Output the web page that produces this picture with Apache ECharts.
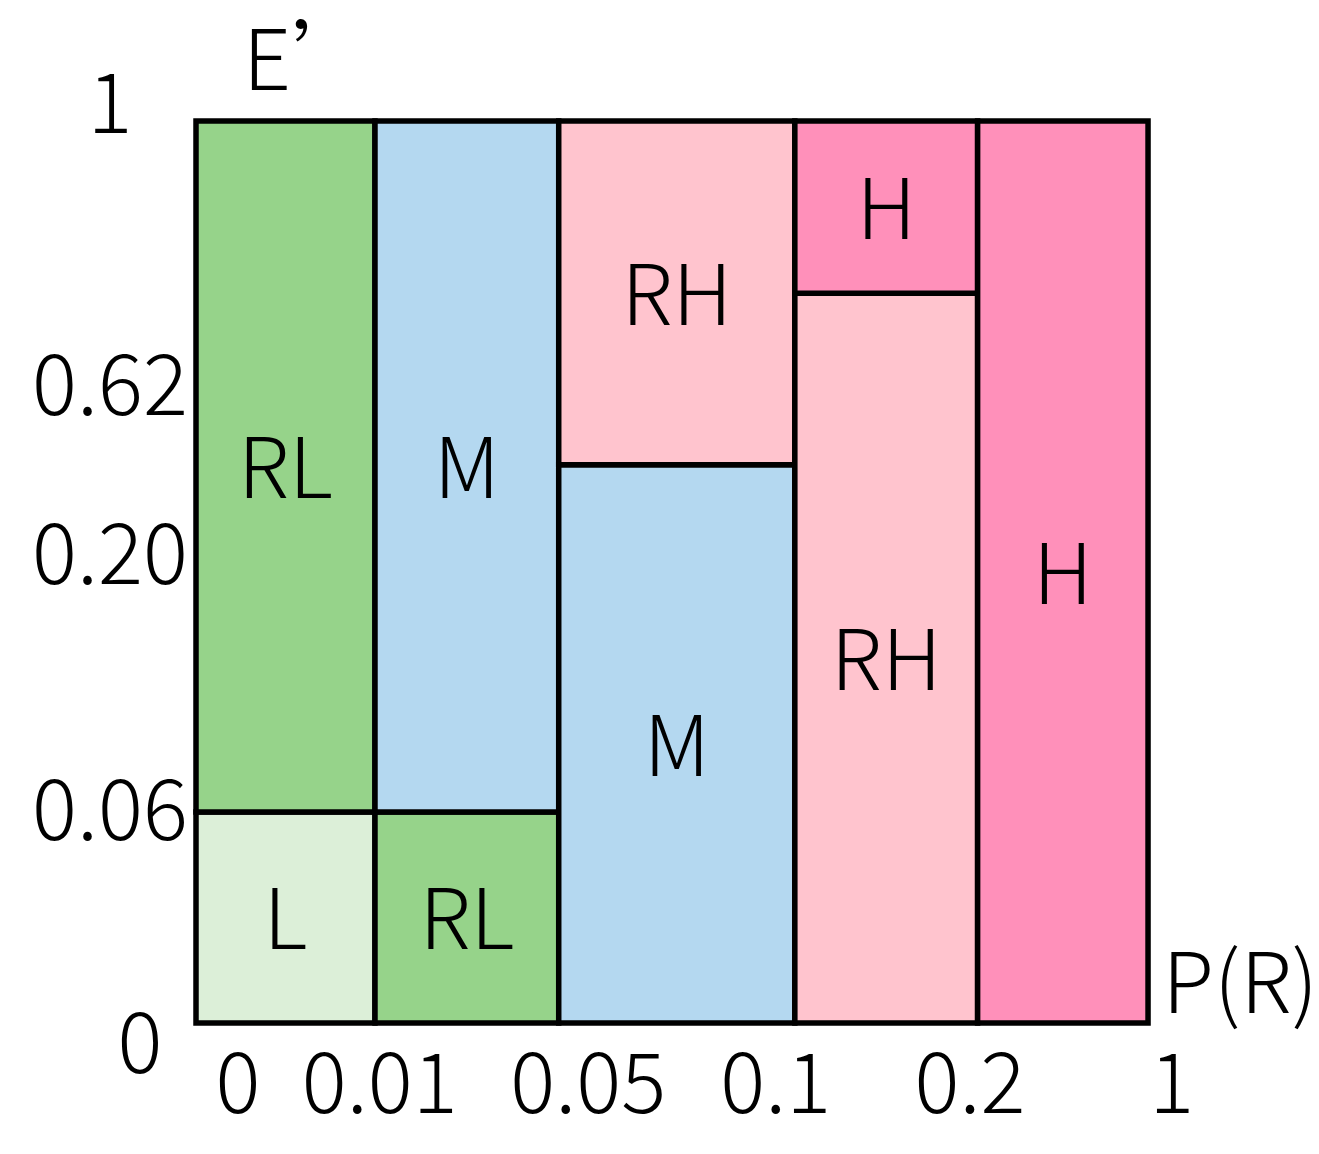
<!DOCTYPE html>
<html>
<head>
<meta charset="utf-8">
<title>风险矩阵</title>
<script src="https://cdn.jsdelivr.net/npm/echarts@6/dist/echarts.min.js"></script>
<style>
    html, body {margin: 0; padding: 0; background: #fff;}
    #chart {width: 1319px; height: 1154px;}
</style>
</head>
<body>
<div id="chart"></div>
<script>
// the axes are schematic: bounds are given on the drawn scale (0..100), labels are the real values
var pTicks = ['0', '0.01', '0.05', '0.1', '0.2', '1'];
var pTickAt = [4.4, 19.3, 41.2, 60.9, 81.3, 102.5];
var pBounds = [0, 18.8, 38.1, 62.9, 82.1, 100];

var eTicks = ['0', '0.06', '0.20', '0.62', '1'];
var eTickAt = [-2.0, 23.8, 52.2, 71.0, 102.2];

// [column, E' from, E' to, class]
var cells = [
    [0, 0, 23.4, 'L'],
    [0, 23.4, 100, 'RL'],
    [1, 0, 23.4, 'RL'],
    [1, 23.4, 100, 'M'],
    [2, 0, 61.9, 'M'],
    [2, 61.9, 100, 'RH'],
    [3, 0, 80.9, 'RH'],
    [3, 80.9, 100, 'H'],
    [4, 0, 100, 'H']
];

var classColors = {
    L: '#dcefd8',
    RL: '#96d38a',
    M: '#b4d8f0',
    RH: '#ffc4ce',
    H: '#ff90ba'
};

var FONT = '"Noto Sans CJK SC", "Noto Sans", sans-serif';
var FONT_SIZE = 84;
var WEIGHT = 300;

function findIndex(values, val) {
    for (var i = 0; i < values.length; i++) {
        if (Math.abs(values[i] - val) < 1e-6) {
            return i;
        }
    }
    return -1;
}

var cellData = cells.map(function (c) {
    return [pBounds[c[0]], c[1], pBounds[c[0] + 1], c[2]];
});

var textBase = {fontFamily: FONT, fontSize: FONT_SIZE, fontWeight: WEIGHT, color: '#000'};

var chart = echarts.init(document.getElementById('chart'));

var option = {
    animation: false,
    grid: {
        left: 196,
        right: 142.4,
        top: 93.94,
        bottom: 103.94,
        outerBoundsMode: 'none'
    },
    xAxis: {
        type: 'value',
        min: 0,
        max: 103,
        name: 'P(R)',
        nameLocation: 'end',
        nameGap: -14,
        nameTextStyle: echarts.util.extend({align: 'left', verticalAlign: 'bottom'}, textBase),
        axisLine: {show: false, onZero: true},
        axisTick: {show: false},
        splitLine: {show: false},
        axisLabel: echarts.util.extend({
            customValues: pTickAt,
            formatter: function (val) {
                var i = findIndex(pTickAt, val);
                return i < 0 ? '' : pTicks[i];
            },
            verticalAlign: 'middle',
            margin: 31
        }, textBase)
    },
    yAxis: {
        type: 'value',
        min: -3,
        max: 103,
        name: 'E’',
        nameLocation: 'end',
        nameGap: 36,
        nameTextStyle: echarts.util.extend({
            align: 'left',
            verticalAlign: 'middle',
            padding: [0, 0, 0, 47]
        }, textBase),
        axisLine: {show: false},
        axisTick: {show: false},
        splitLine: {show: false},
        axisLabel: echarts.util.extend({
            customValues: eTickAt,
            formatter: function (val) {
                var i = findIndex(eTickAt, val);
                if (i < 0) return '';
                return i === 0 ? '{low|' + eTicks[i] + '}' : eTicks[i];
            },
            align: 'center',
            margin: 86,
            rich: {
                low: echarts.util.extend({padding: [0, 0, 0, 60]}, textBase)
            }
        }, textBase)
    },
    series: [{
        type: 'custom',
        data: cellData,
        encode: {x: [0, 2], y: [1, 3]},
        renderItem: function (params, api) {
            var cls = cells[params.dataIndex][3];
            var p0 = api.coord([api.value(0), api.value(3)]);
            var p1 = api.coord([api.value(2), api.value(1)]);
            return {
                type: 'group',
                children: [{
                    type: 'rect',
                    shape: {x: p0[0], y: p0[1], width: p1[0] - p0[0], height: p1[1] - p0[1]},
                    style: {fill: classColors[cls], stroke: '#000', lineWidth: 5.5}
                }, {
                    type: 'text',
                    x: (p0[0] + p1[0]) / 2,
                    y: (p0[1] + p1[1]) / 2,
                    style: {
                        text: cls,
                        fontFamily: FONT,
                        fontSize: FONT_SIZE,
                        fontWeight: WEIGHT,
                        fill: '#000',
                        align: 'center',
                        verticalAlign: 'middle'
                    }
                }]
            };
        }
    }]
};

chart.setOption(option);
window.addEventListener('resize', function () {
    chart.resize();
});
</script>
</body>
</html>
